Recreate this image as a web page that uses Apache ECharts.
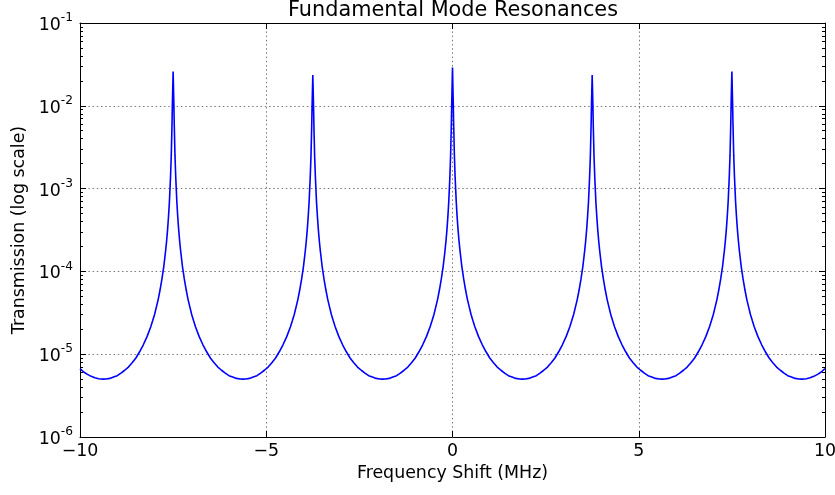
<!DOCTYPE html>
<html>
<head>
<meta charset="utf-8">
<script src="https://cdn.jsdelivr.net/npm/echarts@6/dist/echarts.min.js"></script>
<style>
  html, body { margin: 0; padding: 0; background: #fff; }
  #chart { width: 835px; height: 495px; }
</style>
</head>
<body>
<div id="chart"></div>
<script>
// Frequency shift (MHz) sample positions
const freqShift = [
  -10, -9.9, -9.8, -9.7, -9.6, -9.5, -9.375,
  // resonance near -7.5 MHz
  -9.3, -9.2, -9.1, -9.0, -8.9, -8.8, -8.7, -8.6, -8.5, -8.4, -8.3, -8.2, -8.1, -8.05, -8.0, -7.95, -7.9, -7.85, -7.8, -7.75,
  -7.7, -7.675, -7.65, -7.625, -7.6, -7.57, -7.55, -7.53, -7.52, -7.5,
  -7.48, -7.47, -7.45, -7.43, -7.4, -7.375, -7.35, -7.325, -7.3, -7.25, -7.2, -7.15, -7.1, -7.05, -7.0, -6.95, -6.9,
  -6.8, -6.7, -6.6, -6.5, -6.4, -6.3, -6.2, -6.1, -6.0, -5.9, -5.8, -5.7, -5.625,
  // resonance near -3.75 MHz
  -5.55, -5.45, -5.35, -5.25, -5.15, -5.05, -4.95, -4.85, -4.75, -4.65, -4.55, -4.45, -4.35, -4.3, -4.25, -4.2, -4.15, -4.1, -4.05, -4.0,
  -3.95, -3.925, -3.9, -3.875, -3.85, -3.82, -3.8, -3.78, -3.77, -3.75,
  -3.73, -3.72, -3.7, -3.68, -3.65, -3.625, -3.6, -3.575, -3.55, -3.5, -3.45, -3.4, -3.35, -3.3, -3.25, -3.2, -3.15,
  -3.05, -2.95, -2.85, -2.75, -2.65, -2.55, -2.45, -2.35, -2.25, -2.15, -2.05, -1.95, -1.875,
  // resonance near 0 MHz
  -1.8, -1.7, -1.6, -1.5, -1.4, -1.3, -1.2, -1.1, -1.0, -0.9, -0.8, -0.7, -0.6, -0.55, -0.5, -0.45, -0.4, -0.35, -0.3, -0.25,
  -0.2, -0.175, -0.15, -0.125, -0.1, -0.07, -0.05, -0.03, -0.02, 0,
  0.02, 0.03, 0.05, 0.07, 0.1, 0.125, 0.15, 0.175, 0.2, 0.25, 0.3, 0.35, 0.4, 0.45, 0.5, 0.55, 0.6,
  0.7, 0.8, 0.9, 1.0, 1.1, 1.2, 1.3, 1.4, 1.5, 1.6, 1.7, 1.8, 1.875,
  // resonance near 3.75 MHz
  1.95, 2.05, 2.15, 2.25, 2.35, 2.45, 2.55, 2.65, 2.75, 2.85, 2.95, 3.05, 3.15, 3.2, 3.25, 3.3, 3.35, 3.4, 3.45, 3.5,
  3.55, 3.575, 3.6, 3.625, 3.65, 3.68, 3.7, 3.72, 3.73, 3.75,
  3.77, 3.78, 3.8, 3.82, 3.85, 3.875, 3.9, 3.925, 3.95, 4.0, 4.05, 4.1, 4.15, 4.2, 4.25, 4.3, 4.35,
  4.45, 4.55, 4.65, 4.75, 4.85, 4.95, 5.05, 5.15, 5.25, 5.35, 5.45, 5.55, 5.625,
  // resonance near 7.5 MHz
  5.7, 5.8, 5.9, 6.0, 6.1, 6.2, 6.3, 6.4, 6.5, 6.6, 6.7, 6.8, 6.9, 6.95, 7.0, 7.05, 7.1, 7.15, 7.2, 7.25,
  7.3, 7.325, 7.35, 7.375, 7.4, 7.43, 7.45, 7.47, 7.48, 7.5,
  7.52, 7.53, 7.55, 7.57, 7.6, 7.625, 7.65, 7.675, 7.7, 7.75, 7.8, 7.85, 7.9, 7.95, 8.0, 8.05, 8.1,
  8.2, 8.3, 8.4, 8.5, 8.6, 8.7, 8.8, 8.9, 9.0, 9.1, 9.2, 9.3, 9.375,
  9.5, 9.6, 9.7, 9.8, 9.9, 10
];

// Transmission values (log scale)
const transmission = [
  6.7e-6, 6.1e-6, 5.7e-6, 5.4e-6, 5.2e-6, 5.05e-6, 5.0e-6,
  // resonance near -7.5 MHz
  5.02e-6, 5.1e-6, 5.3e-6, 5.5e-6, 5.9e-6, 6.4e-6, 7.0e-6, 7.9e-6, 9.0e-6, 1.07e-5, 1.3e-5, 1.63e-5, 2.15e-5, 2.53e-5, 3.0e-5, 3.7e-5, 4.6e-5, 6.0e-5, 8.1e-5, 1.15e-4,
  1.8e-4, 2.33e-4, 3.15e-4, 4.5e-4, 6.9e-4, 1.38e-3, 2.5e-3, 6.0e-3, 1.05e-2, 2.6e-2,
  1.05e-2, 6.0e-3, 2.5e-3, 1.38e-3, 6.9e-4, 4.5e-4, 3.15e-4, 2.33e-4, 1.8e-4, 1.15e-4, 8.1e-5, 6.0e-5, 4.6e-5, 3.7e-5, 3.0e-5, 2.53e-5, 2.15e-5,
  1.63e-5, 1.3e-5, 1.07e-5, 9.0e-6, 7.9e-6, 7.0e-6, 6.4e-6, 5.9e-6, 5.5e-6, 5.3e-6, 5.1e-6, 5.02e-6, 5.0e-6,
  // resonance near -3.75 MHz
  5.02e-6, 5.1e-6, 5.3e-6, 5.5e-6, 5.9e-6, 6.4e-6, 7.0e-6, 7.9e-6, 9.0e-6, 1.07e-5, 1.3e-5, 1.63e-5, 2.15e-5, 2.53e-5, 3.0e-5, 3.7e-5, 4.6e-5, 6.0e-5, 8.1e-5, 1.15e-4,
  1.8e-4, 2.33e-4, 3.15e-4, 4.5e-4, 6.8e-4, 1.35e-3, 2.4e-3, 5.6e-3, 9.8e-3, 2.35e-2,
  9.8e-3, 5.6e-3, 2.4e-3, 1.35e-3, 6.8e-4, 4.5e-4, 3.15e-4, 2.33e-4, 1.8e-4, 1.15e-4, 8.1e-5, 6.0e-5, 4.6e-5, 3.7e-5, 3.0e-5, 2.53e-5, 2.15e-5,
  1.63e-5, 1.3e-5, 1.07e-5, 9.0e-6, 7.9e-6, 7.0e-6, 6.4e-6, 5.9e-6, 5.5e-6, 5.3e-6, 5.1e-6, 5.02e-6, 5.0e-6,
  // resonance near 0 MHz
  5.02e-6, 5.1e-6, 5.3e-6, 5.5e-6, 5.9e-6, 6.4e-6, 7.0e-6, 7.9e-6, 9.0e-6, 1.07e-5, 1.3e-5, 1.63e-5, 2.15e-5, 2.53e-5, 3.0e-5, 3.7e-5, 4.6e-5, 6.0e-5, 8.1e-5, 1.15e-4,
  1.8e-4, 2.33e-4, 3.15e-4, 4.5e-4, 7.0e-4, 1.39e-3, 2.6e-3, 6.3e-3, 1.1e-2, 2.9e-2,
  1.1e-2, 6.3e-3, 2.6e-3, 1.39e-3, 7.0e-4, 4.5e-4, 3.15e-4, 2.33e-4, 1.8e-4, 1.15e-4, 8.1e-5, 6.0e-5, 4.6e-5, 3.7e-5, 3.0e-5, 2.53e-5, 2.15e-5,
  1.63e-5, 1.3e-5, 1.07e-5, 9.0e-6, 7.9e-6, 7.0e-6, 6.4e-6, 5.9e-6, 5.5e-6, 5.3e-6, 5.1e-6, 5.02e-6, 5.0e-6,
  // resonance near 3.75 MHz
  5.02e-6, 5.1e-6, 5.3e-6, 5.5e-6, 5.9e-6, 6.4e-6, 7.0e-6, 7.9e-6, 9.0e-6, 1.07e-5, 1.3e-5, 1.63e-5, 2.15e-5, 2.53e-5, 3.0e-5, 3.7e-5, 4.6e-5, 6.0e-5, 8.1e-5, 1.15e-4,
  1.8e-4, 2.33e-4, 3.15e-4, 4.5e-4, 6.8e-4, 1.35e-3, 2.4e-3, 5.6e-3, 9.8e-3, 2.35e-2,
  9.8e-3, 5.6e-3, 2.4e-3, 1.35e-3, 6.8e-4, 4.5e-4, 3.15e-4, 2.33e-4, 1.8e-4, 1.15e-4, 8.1e-5, 6.0e-5, 4.6e-5, 3.7e-5, 3.0e-5, 2.53e-5, 2.15e-5,
  1.63e-5, 1.3e-5, 1.07e-5, 9.0e-6, 7.9e-6, 7.0e-6, 6.4e-6, 5.9e-6, 5.5e-6, 5.3e-6, 5.1e-6, 5.02e-6, 5.0e-6,
  // resonance near 7.5 MHz
  5.02e-6, 5.1e-6, 5.3e-6, 5.5e-6, 5.9e-6, 6.4e-6, 7.0e-6, 7.9e-6, 9.0e-6, 1.07e-5, 1.3e-5, 1.63e-5, 2.15e-5, 2.53e-5, 3.0e-5, 3.7e-5, 4.6e-5, 6.0e-5, 8.1e-5, 1.15e-4,
  1.8e-4, 2.33e-4, 3.15e-4, 4.5e-4, 6.9e-4, 1.38e-3, 2.5e-3, 6.0e-3, 1.05e-2, 2.6e-2,
  1.05e-2, 6.0e-3, 2.5e-3, 1.38e-3, 6.9e-4, 4.5e-4, 3.15e-4, 2.33e-4, 1.8e-4, 1.15e-4, 8.1e-5, 6.0e-5, 4.6e-5, 3.7e-5, 3.0e-5, 2.53e-5, 2.15e-5,
  1.63e-5, 1.3e-5, 1.07e-5, 9.0e-6, 7.9e-6, 7.0e-6, 6.4e-6, 5.9e-6, 5.5e-6, 5.3e-6, 5.1e-6, 5.02e-6, 5.0e-6,
  5.05e-6, 5.2e-6, 5.4e-6, 5.7e-6, 6.1e-6, 6.7e-6
];

// Axis ticks
const xTickValues = [-10, -5, 0, 5, 10];
const yTickExponents = [-6, -5, -4, -3, -2, -1];

const FONT = 'DejaVu Sans';
const BASE = 17.4;

const seriesData = freqShift.map((f, i) => [f, transmission[i]]);

const xMin = xTickValues[0], xMax = xTickValues[xTickValues.length - 1];
const xInterval = xTickValues[1] - xTickValues[0];
const yMin = Math.pow(10, yTickExponents[0]);
const yMax = Math.pow(10, yTickExponents[yTickExponents.length - 1]);

const gridLine = { show: true, lineStyle: { color: '#7a7a7a', width: 1, type: [1.5, 2.7] } };

function xLabel(v) {
  return String(v).replace('-', '\u2212');
}
function yLabel(v) {
  const e = Math.round(Math.log10(v));
  return '{b|10}{s|' + e + '}';
}

const chart = echarts.init(document.getElementById('chart'), null, { renderer: 'canvas' });
chart.setOption({
  animation: false,
  backgroundColor: '#ffffff',
  title: {
    text: 'Fundamental Mode Resonances',
    left: 453,
    top: 0,
    padding: 0,
    textAlign: 'center',
    textStyle: { fontFamily: FONT, fontSize: 20.8, fontWeight: 'normal', color: '#000' }
  },
  grid: { left: 80, right: 10, top: 23, bottom: 58, containLabel: false, outerBoundsMode: 'none',
          show: false },
  xAxis: [
    {
      type: 'value', min: xMin, max: xMax, interval: xInterval, position: 'bottom',
      name: 'Frequency Shift (MHz)', nameLocation: 'middle', nameGap: 26,
      nameTextStyle: { fontFamily: FONT, fontSize: BASE, color: '#000' },
      axisLine: { show: true, onZero: false, lineStyle: { color: '#000', width: 1 } },
      axisTick: { show: true, inside: true, length: 6, lineStyle: { color: '#000' } },
      axisLabel: { show: true, margin: 6, formatter: xLabel, fontFamily: FONT, fontSize: BASE, color: '#000' },
      splitLine: gridLine
    },
    {
      type: 'value', min: xMin, max: xMax, interval: xInterval, position: 'top',
      axisLine: { show: true, onZero: false, lineStyle: { color: '#000', width: 1 } },
      axisTick: { show: true, inside: true, length: 6, lineStyle: { color: '#000' } },
      axisLabel: { show: false },
      splitLine: { show: false }
    }
  ],
  yAxis: [
    {
      type: 'log', logBase: 10, min: yMin, max: yMax, position: 'left',
      name: 'Transmission (log scale)', nameLocation: 'middle', nameGap: 50,
      nameTextStyle: { fontFamily: FONT, fontSize: BASE, color: '#000' },
      axisLine: { show: true, onZero: false, lineStyle: { color: '#000', width: 1 } },
      axisTick: { show: true, inside: true, length: 6, lineStyle: { color: '#000' } },
      minorTick: { show: true, splitNumber: 9, length: 3, lineStyle: { color: '#000', width: 1 } },
      axisLabel: {
        show: true, margin: 7, formatter: yLabel, color: '#000',
        rich: {
          b: { fontFamily: FONT, fontSize: BASE, lineHeight: 22, verticalAlign: 'bottom', color: '#000' },
          s: { fontFamily: FONT, fontSize: 12.2, lineHeight: 14, verticalAlign: 'top', color: '#000' }
        }
      },
      splitLine: gridLine,
      minorSplitLine: { show: false }
    },
    {
      type: 'log', logBase: 10, min: yMin, max: yMax, position: 'right',
      axisLine: { show: true, onZero: false, lineStyle: { color: '#000', width: 1 } },
      axisTick: { show: true, inside: true, length: 6, lineStyle: { color: '#000' } },
      minorTick: { show: true, splitNumber: 9, length: 3, lineStyle: { color: '#000', width: 1 } },
      axisLabel: { show: false },
      splitLine: { show: false }
    }
  ],
  series: [
    {
      type: 'line',
      xAxisIndex: 0, yAxisIndex: 0,
      data: seriesData,
      showSymbol: false,
      symbol: 'none',
      smooth: false,
      clip: true,
      lineStyle: { color: '#0000ff', width: 1.6 },
      z: 1
    }
  ]
});
</script>
</body>
</html>
